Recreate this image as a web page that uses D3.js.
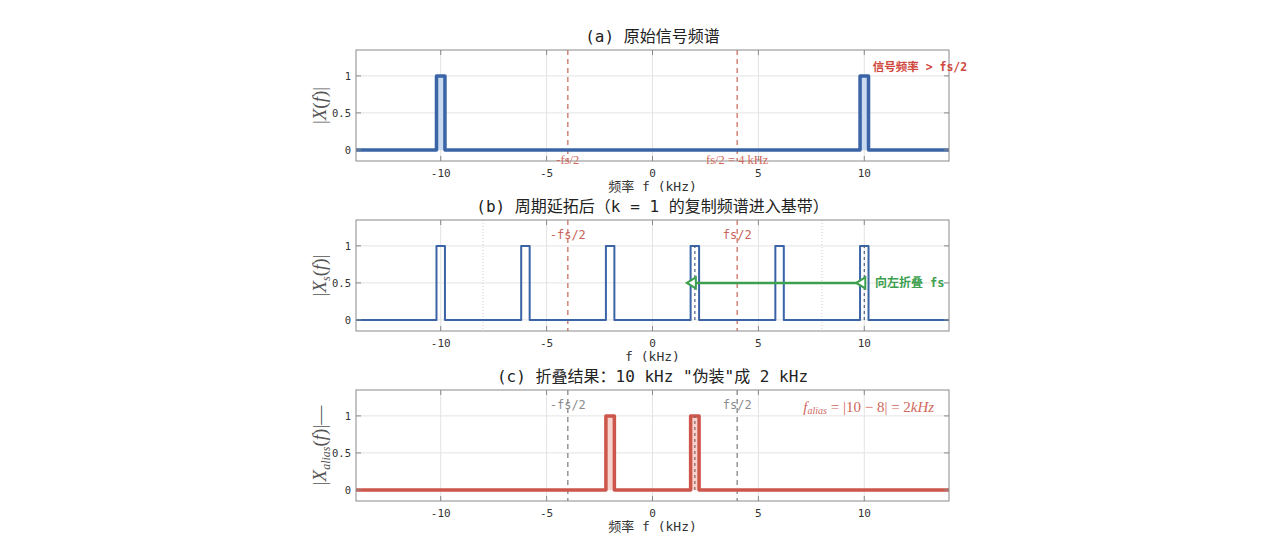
<!DOCTYPE html>
<html>
<head>
<meta charset="utf-8">
<script src="https://cdn.jsdelivr.net/npm/d3@7"></script>
<style>
  html, body { margin: 0; padding: 0; background: #fff; }
  svg { display: block; }
  text { font-family: "DejaVu Sans Mono", "Noto Sans CJK SC", monospace; }
  .serif { font-family: "Liberation Serif", "DejaVu Serif", serif; }
</style>
</head>
<body>
<div id="chart"></div>
<script>
// axis ranges and ticks
const xDomain = [-14, 14];
const yDomain = [-0.15, 1.35];
const xTicks = [-10, -5, 0, 5, 10];
const yTicks = [0, 0.5, 1];
const yTickLabels = ['0', '0.5', '1'];

// rectangular pulses [start, end] in kHz, height 1
const pulsesA = [[-10.2, -9.8], [9.8, 10.2]];
const pulsesB = [[-10.2, -9.8], [-6.2, -5.8], [-2.2, -1.8], [1.8, 2.2], [5.8, 6.2], [9.8, 10.2]];
const pulsesC = [[-2.2, -1.8], [1.8, 2.2]];
const pulseHeight = 1;

// reference lines
const nyquistLines = [-4, 4];
const samplingLines = [-8, 8];
const markedB = [2, 10];
const markedC = [2];
const fold = { from: 10, to: 2, level: 0.5 };

const width = 1280, height = 543;
const left = 356, right = 949, panelH = 111;

const svg = d3.select('#chart').append('svg')
  .attr('width', width)
  .attr('height', height);

const x = d3.scaleLinear().domain(xDomain).range([left, right]);

function stepLine(pulses) {
  const pts = [[xDomain[0], 0]];
  pulses.forEach(([a, b]) => {
    pts.push([a, 0], [a, pulseHeight], [b, pulseHeight], [b, 0]);
  });
  pts.push([xDomain[1], 0]);
  return pts;
}

function makePanel(top, opts) {
  const y = d3.scaleLinear().domain(yDomain).range([top + panelH, top]);
  const g = svg.append('g');
  const bottom = top + panelH;

  // grid
  g.selectAll('.gx').data(xTicks).join('line')
    .attr('x1', d => x(d)).attr('x2', d => x(d))
    .attr('y1', top).attr('y2', bottom)
    .attr('stroke', '#e3e3e3').attr('stroke-width', 1);
  g.selectAll('.gy').data(yTicks).join('line')
    .attr('x1', left).attr('x2', right)
    .attr('y1', d => y(d)).attr('y2', d => y(d))
    .attr('stroke', '#e3e3e3').attr('stroke-width', 1);

  if (opts.extraGrid) {
    g.selectAll('.ge').data(opts.extraGrid).join('line')
      .attr('x1', d => x(d)).attr('x2', d => x(d))
      .attr('y1', top).attr('y2', bottom)
      .attr('stroke', '#cfcfcf').attr('stroke-width', 1)
      .attr('stroke-dasharray', '1,2');
  }

  // nyquist dashed lines
  g.selectAll('.ny').data(nyquistLines).join('line')
    .attr('x1', d => x(d)).attr('x2', d => x(d))
    .attr('y1', top).attr('y2', bottom)
    .attr('stroke', opts.nyColor).attr('stroke-width', 1.6)
    .attr('stroke-dasharray', '5,4');

  // pulse fill
  if (opts.fill) {
    g.selectAll('.fill').data(opts.pulses).join('rect')
      .attr('x', d => x(d[0])).attr('width', d => x(d[1]) - x(d[0]))
      .attr('y', y(pulseHeight)).attr('height', y(0) - y(pulseHeight))
      .attr('fill', opts.fill);
  }

  // spectrum
  g.append('path')
    .datum(stepLine(opts.pulses))
    .attr('d', d3.line().x(d => x(d[0])).y(d => y(d[1])))
    .attr('fill', 'none')
    .attr('stroke', opts.color)
    .attr('stroke-width', opts.lineWidth)
    .attr('stroke-linejoin', 'round');

  // marked centre lines
  if (opts.marked) {
    g.selectAll('.mk').data(opts.marked).join('line')
      .attr('x1', d => x(d)).attr('x2', d => x(d))
      .attr('y1', y(0)).attr('y2', y(pulseHeight))
      .attr('stroke', opts.markColor).attr('stroke-width', 1.2)
      .attr('stroke-dasharray', '3,3');
  }

  // box
  g.append('rect')
    .attr('x', left).attr('y', top)
    .attr('width', right - left).attr('height', panelH)
    .attr('fill', 'none').attr('stroke', '#8a8a8a').attr('stroke-width', 1);

  // ticks (inward, on all four sides)
  xTicks.forEach(t => {
    g.append('line').attr('x1', x(t)).attr('x2', x(t)).attr('y1', bottom).attr('y2', bottom - 5)
      .attr('stroke', '#8a8a8a');
    g.append('line').attr('x1', x(t)).attr('x2', x(t)).attr('y1', top).attr('y2', top + 5)
      .attr('stroke', '#8a8a8a');
  });
  yTicks.forEach(t => {
    g.append('line').attr('x1', left).attr('x2', left + 5).attr('y1', y(t)).attr('y2', y(t))
      .attr('stroke', '#8a8a8a');
    g.append('line').attr('x1', right).attr('x2', right - 5).attr('y1', y(t)).attr('y2', y(t))
      .attr('stroke', '#8a8a8a');
  });

  g.selectAll('.xt').data(xTicks).join('text')
    .attr('x', d => x(d)).attr('y', bottom + 16)
    .attr('text-anchor', 'middle')
    .attr('font-size', 11).attr('fill', '#333')
    .text(d => d < 0 ? '-' + Math.abs(d) : d);
  g.selectAll('.yt').data(yTicks).join('text')
    .attr('x', left - 5).attr('y', d => y(d) + 4)
    .attr('text-anchor', 'end')
    .attr('font-size', 10.5).attr('fill', '#333')
    .text((d, i) => yTickLabels[i]);

  // title and x label
  g.append('text')
    .attr('x', (left + right) / 2).attr('y', top - 8)
    .attr('text-anchor', 'middle')
    .attr('font-size', 16).attr('fill', '#222')
    .text(opts.title);
  g.append('text')
    .attr('x', (left + right) / 2).attr('y', bottom + 30)
    .attr('text-anchor', 'middle')
    .attr('font-size', 13).attr('fill', '#333')
    .text(opts.xlabel);

  // y label (latex-like)
  const yl = g.append('text')
    .attr('class', 'serif')
    .attr('transform', `translate(326,${(top + bottom) / 2}) rotate(-90)`)
    .attr('text-anchor', 'middle')
    .attr('font-size', 19).attr('fill', '#555');
  opts.ylabel(yl);

  return { g, y, top, bottom };
}

// (a)
const pa = makePanel(50, {
  pulses: pulsesA, color: '#3a64a6', lineWidth: 3.5, fill: '#c9daf1',
  nyColor: '#d58a7f',
  title: '(a) 原始信号频谱', xlabel: '频率 f (kHz)',
  ylabel: t => {
    t.append('tspan').text('|');
    t.append('tspan').attr('font-style', 'italic').text('X');
    t.append('tspan').text('(');
    t.append('tspan').attr('font-style', 'italic').text('f');
    t.append('tspan').text(')|');
  }
});
pa.g.append('text').attr('class', 'serif')
  .attr('x', x(nyquistLines[0])).attr('y', pa.y(-0.13))
  .attr('text-anchor', 'middle').attr('dominant-baseline', 'central')
  .attr('font-size', 12.5).attr('fill', '#d0685c')
  .text('-fs/2');
pa.g.append('text').attr('class', 'serif')
  .attr('x', x(nyquistLines[1])).attr('y', pa.y(-0.13))
  .attr('text-anchor', 'middle').attr('dominant-baseline', 'central')
  .attr('font-size', 12.5).attr('fill', '#d0685c')
  .text('fs/2 = 4 kHz');
pa.g.append('text')
  .attr('x', x(10.4)).attr('y', pa.y(1.12)).attr('dominant-baseline', 'central')
  .attr('font-size', 11.5).attr('font-weight', 'bold').attr('fill', '#d0483e')
  .text('信号频率 > fs/2');

// (b)
const pb = makePanel(220, {
  pulses: pulsesB, color: '#3a64a6', lineWidth: 2,
  nyColor: '#d58a7f', extraGrid: samplingLines,
  marked: markedB, markColor: '#4a5e80',
  title: '(b) 周期延拓后（k = 1 的复制频谱进入基带）', xlabel: 'f (kHz)',
  ylabel: t => {
    t.append('tspan').text('|');
    t.append('tspan').attr('font-style', 'italic').text('X');
    t.append('tspan').attr('font-style', 'italic').attr('font-size', 12).attr('dy', 4).text('s');
    t.append('tspan').attr('dy', -4).text('(');
    t.append('tspan').attr('font-style', 'italic').text('f');
    t.append('tspan').text(')|');
  }
});
pb.g.selectAll('.nyl').data(nyquistLines).join('text')
  .attr('x', d => x(d)).attr('y', pb.y(1.15)).attr('dominant-baseline', 'central')
  .attr('text-anchor', 'middle').attr('font-size', 12).attr('fill', '#c9655b')
  .text(d => d < 0 ? '-fs/2' : 'fs/2');

// fold arrow
const green = '#3ca04e';
pb.g.append('line')
  .attr('x1', x(fold.from)).attr('x2', x(fold.to))
  .attr('y1', pb.y(fold.level)).attr('y2', pb.y(fold.level))
  .attr('stroke', green).attr('stroke-width', 2.5);
[fold.to, fold.from].forEach(v => {
  const cx = x(v), cy = pb.y(fold.level);
  pb.g.append('path')
    .attr('d', `M${cx - 8},${cy} L${cx + 1},${cy - 5.5} L${cx + 1},${cy + 5.5} Z`)
    .attr('fill', '#fff').attr('stroke', green).attr('stroke-width', 2);
});
pb.g.append('text')
  .attr('x', x(10.5)).attr('y', pb.y(fold.level)).attr('dominant-baseline', 'central')
  .attr('font-size', 12).attr('font-weight', 'bold').attr('fill', green)
  .text('向左折叠 fs');

// (c)
const pc = makePanel(390, {
  pulses: pulsesC, color: '#cd564b', lineWidth: 3.5, fill: '#f7d3ce',
  nyColor: '#9a9a9a',
  marked: markedC, markColor: '#8a5e5a',
  title: '(c) 折叠结果：10 kHz "伪装"成 2 kHz', xlabel: '频率 f (kHz)',
  ylabel: t => {
    t.append('tspan').text('|');
    t.append('tspan').attr('font-style', 'italic').text('X');
    t.append('tspan').attr('font-style', 'italic').attr('font-size', 12).attr('dy', 4).text('alias');
    t.append('tspan').attr('dy', -4).text('(');
    t.append('tspan').attr('font-style', 'italic').text('f');
    t.append('tspan').text(')|—');
  }
});
pc.g.selectAll('.nyl').data(nyquistLines).join('text')
  .attr('x', d => x(d)).attr('y', pc.y(1.15)).attr('dominant-baseline', 'central')
  .attr('text-anchor', 'middle').attr('font-size', 12).attr('fill', '#8c8c8c')
  .text(d => d < 0 ? '-fs/2' : 'fs/2');

const fa = pc.g.append('text').attr('class', 'serif')
  .attr('x', x(13.3)).attr('y', pc.y(1.12)).attr('dominant-baseline', 'central')
  .attr('text-anchor', 'end').attr('font-size', 15).attr('fill', '#d0685c');
fa.append('tspan').attr('font-style', 'italic').text('f');
fa.append('tspan').attr('font-style', 'italic').attr('font-size', 10).attr('dy', 3).text('alias');
fa.append('tspan').attr('dy', -3).text(' = |10 − 8| = 2');
fa.append('tspan').attr('font-style', 'italic').text('kHz');
</script>
</body>
</html>
